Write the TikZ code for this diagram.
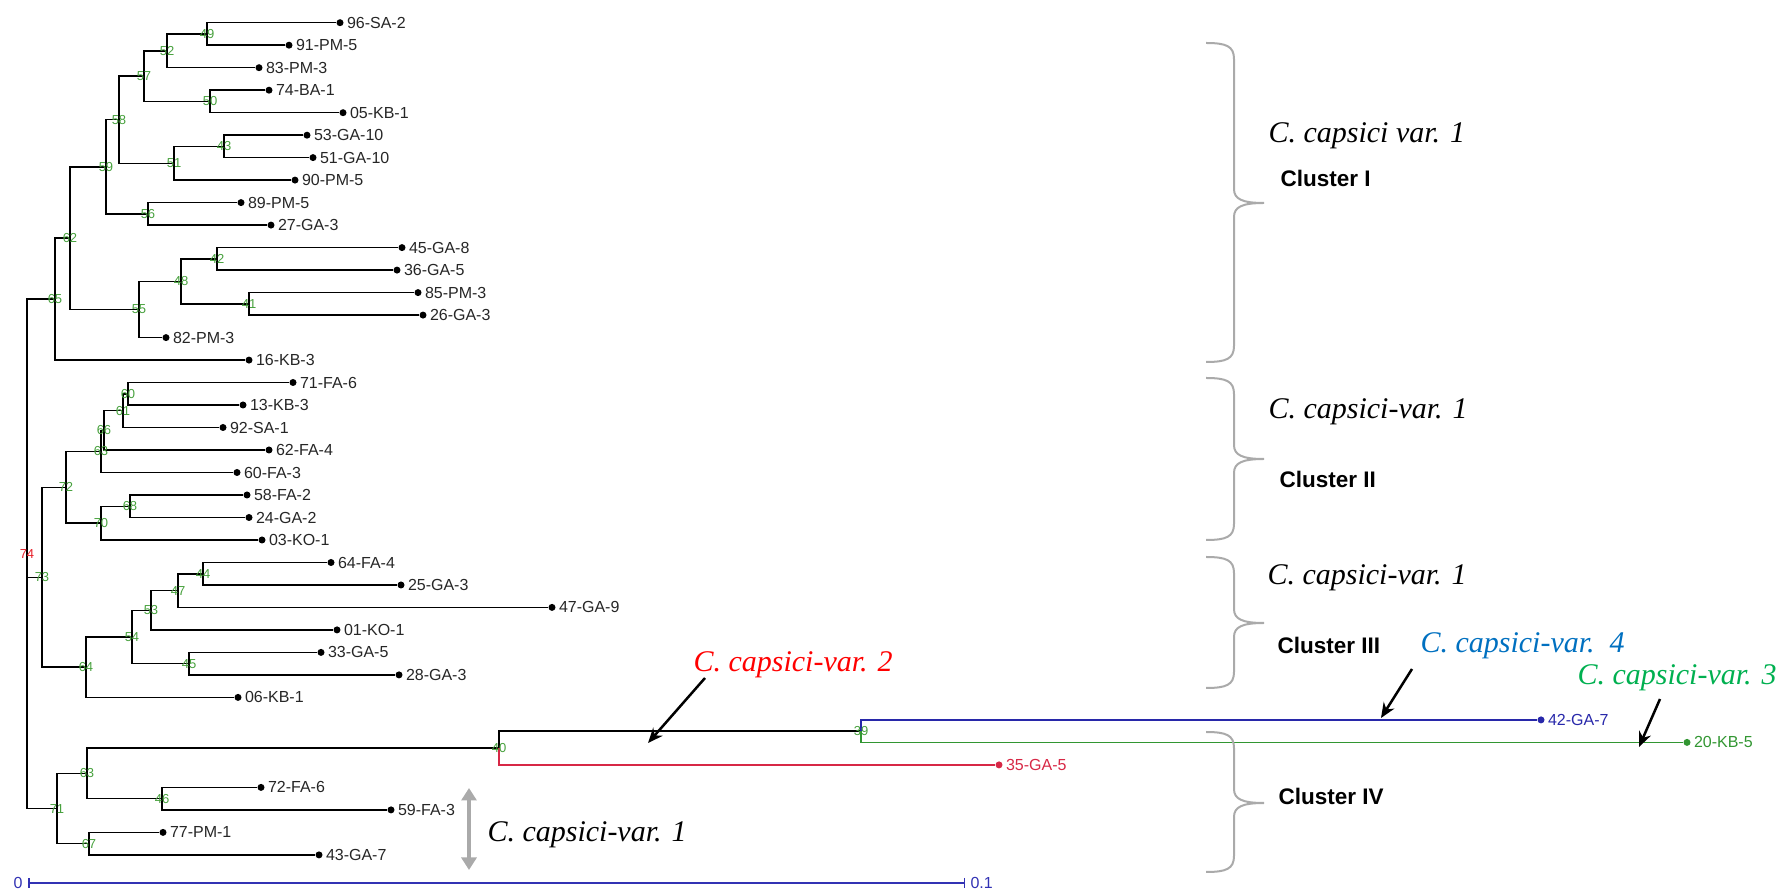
\documentclass[tikz,border=0pt]{standalone}
\usepackage{fontspec}
\setmainfont{Liberation Sans}
\newfontfamily\capsfont{Liberation Serif}
\usetikzlibrary{arrows.meta}
\definecolor{bootgreen}{RGB}{70,160,60}
\definecolor{bootred}{RGB}{230,30,40}
\definecolor{brgreen}{RGB}{50,150,50}
\definecolor{brblue}{RGB}{40,40,170}
\definecolor{brred}{RGB}{215,40,70}
\definecolor{varred}{RGB}{255,0,0}
\definecolor{varblue}{RGB}{0,112,192}
\definecolor{vargreen}{RGB}{0,176,80}
\definecolor{bracegray}{RGB}{170,170,170}
\definecolor{scaleblue}{RGB}{50,50,180}

\begin{document}
\begin{tikzpicture}[x=0.4pt,y=-0.4pt]
\tikzset{br/.style={line width=0.6pt},
  leaf/.style={circle, fill=black, inner sep=0pt, minimum size=2.8pt},
  lab/.style={anchor=west, inner sep=1pt, text=black!85, font=\fontsize{6.4}{7}\selectfont},
  boot/.style={inner sep=0pt, text=bootgreen, font=\fontsize{5.2}{6}\selectfont},
  vartext/.style={anchor=base west, inner sep=0pt, font=\capsfont\itshape\fontsize{12}{14}\selectfont},
  clus/.style={anchor=base west, inner sep=0pt, font=\bfseries\fontsize{9}{11}\selectfont},
  clbrace/.style={draw=bracegray, line width=0.8pt},
  pointer/.style={line width=1pt, -{Stealth[length=6pt, width=5pt]}},
  grayarrow/.style={draw=bracegray, line width=1.6pt, {Triangle[length=5pt, width=6pt]}-{Triangle[length=5pt, width=6pt]}},
  scalebar/.style={draw=scaleblue, line width=0.6pt, {Bar[width=4pt]}-{Bar[width=4pt]}},
  scalelab/.style={inner sep=2pt, text=scaleblue, font=\fontsize{6.4}{7}\selectfont}}
\useasboundingbox (0,0) rectangle (1786,890);
\node[leaf] (L1) at (340,22.7) {};
\node[leaf] (L2) at (289,45.2) {};
\node[leaf] (L3) at (259,67.7) {};
\node[leaf] (L4) at (269,90.2) {};
\node[leaf] (L5) at (343,112.7) {};
\node[leaf] (L6) at (307,135.2) {};
\node[leaf] (L7) at (313,157.6) {};
\node[leaf] (L8) at (295,180.1) {};
\node[leaf] (L9) at (241,202.6) {};
\node[leaf] (L10) at (271,225.1) {};
\node[leaf] (L11) at (402,247.6) {};
\node[leaf] (L12) at (397,270.1) {};
\node[leaf] (L13) at (418,292.6) {};
\node[leaf] (L14) at (423,315.1) {};
\node[leaf] (L15) at (166,337.6) {};
\node[leaf] (L16) at (249,360.1) {};
\node[leaf] (L17) at (293,382.5) {};
\node[leaf] (L18) at (243,405.0) {};
\node[leaf] (L19) at (223,427.5) {};
\node[leaf] (L20) at (269,450.0) {};
\node[leaf] (L21) at (237,472.5) {};
\node[leaf] (L22) at (247,495.0) {};
\node[leaf] (L23) at (249,517.5) {};
\node[leaf] (L24) at (262,540.0) {};
\node[leaf] (L25) at (331,562.5) {};
\node[leaf] (L26) at (401,585.0) {};
\node[leaf] (L27) at (552,607.4) {};
\node[leaf] (L28) at (337,629.9) {};
\node[leaf] (L29) at (321,652.4) {};
\node[leaf] (L30) at (399,674.9) {};
\node[leaf] (L31) at (238,697.4) {};
\node[leaf, fill=brblue] (L32) at (1541,719.9) {};
\node[leaf, fill=brgreen] (L33) at (1687,742.4) {};
\node[leaf, fill=brred] (L34) at (999,764.9) {};
\node[leaf] (L35) at (261,787.4) {};
\node[leaf] (L36) at (391,809.9) {};
\node[leaf] (L37) at (163,832.4) {};
\node[leaf] (L38) at (319,854.9) {};
\node[lab] (T1) at (L1.east) {96-SA-2};
\node[lab] (T2) at (L2.east) {91-PM-5};
\node[lab] (T3) at (L3.east) {83-PM-3};
\node[lab] (T4) at (L4.east) {74-BA-1};
\node[lab] (T5) at (L5.east) {05-KB-1};
\node[lab] (T6) at (L6.east) {53-GA-10};
\node[lab] (T7) at (L7.east) {51-GA-10};
\node[lab] (T8) at (L8.east) {90-PM-5};
\node[lab] (T9) at (L9.east) {89-PM-5};
\node[lab] (T10) at (L10.east) {27-GA-3};
\node[lab] (T11) at (L11.east) {45-GA-8};
\node[lab] (T12) at (L12.east) {36-GA-5};
\node[lab] (T13) at (L13.east) {85-PM-3};
\node[lab] (T14) at (L14.east) {26-GA-3};
\node[lab] (T15) at (L15.east) {82-PM-3};
\node[lab] (T16) at (L16.east) {16-KB-3};
\node[lab] (T17) at (L17.east) {71-FA-6};
\node[lab] (T18) at (L18.east) {13-KB-3};
\node[lab] (T19) at (L19.east) {92-SA-1};
\node[lab] (T20) at (L20.east) {62-FA-4};
\node[lab] (T21) at (L21.east) {60-FA-3};
\node[lab] (T22) at (L22.east) {58-FA-2};
\node[lab] (T23) at (L23.east) {24-GA-2};
\node[lab] (T24) at (L24.east) {03-KO-1};
\node[lab] (T25) at (L25.east) {64-FA-4};
\node[lab] (T26) at (L26.east) {25-GA-3};
\node[lab] (T27) at (L27.east) {47-GA-9};
\node[lab] (T28) at (L28.east) {01-KO-1};
\node[lab] (T29) at (L29.east) {33-GA-5};
\node[lab] (T30) at (L30.east) {28-GA-3};
\node[lab] (T31) at (L31.east) {06-KB-1};
\node[lab, text=brblue] (T32) at (L32.east) {42-GA-7};
\node[lab, text=brgreen] (T33) at (L33.east) {20-KB-5};
\node[lab, text=brred] (T34) at (L34.east) {35-GA-5};
\node[lab] (T35) at (L35.east) {72-FA-6};
\node[lab] (T36) at (L36.east) {59-FA-3};
\node[lab] (T37) at (L37.east) {77-PM-1};
\node[lab] (T38) at (L38.east) {43-GA-7};
\coordinate (N49) at (207,34.0);
\coordinate (N52) at (167,50.8);
\coordinate (N50) at (210,101.5);
\coordinate (N57) at (144,76.2);
\coordinate (N43) at (224,146.4);
\coordinate (N51) at (174,163.3);
\coordinate (N58) at (119,119.7);
\coordinate (N56) at (148,213.9);
\coordinate (N59) at (106,166.8);
\coordinate (N42) at (217,258.9);
\coordinate (N41) at (249,303.9);
\coordinate (N48) at (181,281.4);
\coordinate (N55) at (139,309.5);
\coordinate (N62) at (70,238.2);
\coordinate (N65) at (55,299.1);
\coordinate (N60) at (128,393.8);
\coordinate (N61) at (123,410.6);
\coordinate (N66) at (104,430.3);
\coordinate (N63a) at (101,451.4);
\coordinate (N68) at (130,506.3);
\coordinate (N70) at (101,523.1);
\coordinate (N72) at (66,487.3);
\coordinate (N44) at (203,573.8);
\coordinate (N47) at (178,590.6);
\coordinate (N53) at (151,610.3);
\coordinate (N45) at (189,663.7);
\coordinate (N54) at (132,637.0);
\coordinate (N64) at (86,667.2);
\coordinate (N73) at (42,577.3);
\coordinate (N39) at (861,731.2);
\coordinate (N40) at (499,748.1);
\coordinate (N46) at (162,798.7);
\coordinate (N63b) at (87,773.4);
\coordinate (N67) at (89,843.7);
\coordinate (N71) at (57,808.6);
\coordinate (N74) at (27,553.9);
\draw[br] (N74) |- (N65);
\draw[br] (N74) |- (N73);
\draw[br] (N74) |- (N71);
\draw[br] (N65) |- (N62);
\draw[br] (N65) |- (L16);
\draw[br] (N62) |- (N59);
\draw[br] (N62) |- (N55);
\draw[br] (N59) |- (N58);
\draw[br] (N59) |- (N56);
\draw[br] (N58) |- (N57);
\draw[br] (N58) |- (N51);
\draw[br] (N57) |- (N52);
\draw[br] (N57) |- (N50);
\draw[br] (N52) |- (N49);
\draw[br] (N52) |- (L3);
\draw[br] (N49) |- (L1);
\draw[br] (N49) |- (L2);
\draw[br] (N50) |- (L4);
\draw[br] (N50) |- (L5);
\draw[br] (N51) |- (N43);
\draw[br] (N51) |- (L8);
\draw[br] (N43) |- (L6);
\draw[br] (N43) |- (L7);
\draw[br] (N56) |- (L9);
\draw[br] (N56) |- (L10);
\draw[br] (N55) |- (N48);
\draw[br] (N55) |- (L15);
\draw[br] (N48) |- (N42);
\draw[br] (N48) |- (N41);
\draw[br] (N42) |- (L11);
\draw[br] (N42) |- (L12);
\draw[br] (N41) |- (L13);
\draw[br] (N41) |- (L14);
\draw[br] (N73) |- (N72);
\draw[br] (N73) |- (N64);
\draw[br] (N72) |- (N63a);
\draw[br] (N72) |- (N70);
\draw[br] (N63a) |- (N66);
\draw[br] (N63a) |- (L21);
\draw[br] (N66) |- (N61);
\draw[br] (N66) |- (L20);
\draw[br] (N61) |- (N60);
\draw[br] (N61) |- (L19);
\draw[br] (N60) |- (L17);
\draw[br] (N60) |- (L18);
\draw[br] (N70) |- (N68);
\draw[br] (N70) |- (L24);
\draw[br] (N68) |- (L22);
\draw[br] (N68) |- (L23);
\draw[br] (N64) |- (N54);
\draw[br] (N64) |- (L31);
\draw[br] (N54) |- (N53);
\draw[br] (N54) |- (N45);
\draw[br] (N53) |- (N47);
\draw[br] (N53) |- (L28);
\draw[br] (N47) |- (N44);
\draw[br] (N47) |- (L27);
\draw[br] (N44) |- (L25);
\draw[br] (N44) |- (L26);
\draw[br] (N45) |- (L29);
\draw[br] (N45) |- (L30);
\draw[br] (N71) |- (N63b);
\draw[br] (N71) |- (N67);
\draw[br] (N63b) |- (N40);
\draw[br] (N63b) |- (N46);
\draw[br] (N40) |- (N39);
\draw[br, brred] (N40) |- (L34);
\draw[br, brblue] (N39) |- (L32);
\draw[br, brgreen] (N39) |- (L33);
\draw[br] (N46) |- (L35);
\draw[br] (N46) |- (L36);
\draw[br] (N67) |- (L37);
\draw[br] (N67) |- (L38);
\node[boot] (B49) at (N49) {49};
\node[boot] (B52) at (N52) {52};
\node[boot] (B50) at (N50) {50};
\node[boot] (B57) at (N57) {57};
\node[boot] (B43) at (N43) {43};
\node[boot] (B51) at (N51) {51};
\node[boot] (B58) at (N58) {58};
\node[boot] (B56) at (N56) {56};
\node[boot] (B59) at (N59) {59};
\node[boot] (B42) at (N42) {42};
\node[boot] (B41) at (N41) {41};
\node[boot] (B48) at (N48) {48};
\node[boot] (B55) at (N55) {55};
\node[boot] (B62) at (N62) {62};
\node[boot] (B65) at (N65) {65};
\node[boot] (B60) at (N60) {60};
\node[boot] (B61) at (N61) {61};
\node[boot] (B66) at (N66) {66};
\node[boot] (B63a) at (N63a) {63};
\node[boot] (B68) at (N68) {68};
\node[boot] (B70) at (N70) {70};
\node[boot] (B72) at (N72) {72};
\node[boot] (B44) at (N44) {44};
\node[boot] (B47) at (N47) {47};
\node[boot] (B53) at (N53) {53};
\node[boot] (B45) at (N45) {45};
\node[boot] (B54) at (N54) {54};
\node[boot] (B64) at (N64) {64};
\node[boot] (B73) at (N73) {73};
\node[boot] (B39) at (N39) {39};
\node[boot] (B40) at (N40) {40};
\node[boot] (B46) at (N46) {46};
\node[boot] (B63b) at (N63b) {63};
\node[boot] (B67) at (N67) {67};
\node[boot] (B71) at (N71) {71};
\node[boot, text=bootred] (B74) at (N74) {74};
\draw[clbrace] (1206,43) .. controls (1226,43) and (1234,46) .. (1234,59) -- (1234,189)
  .. controls (1234,199) and (1242,203) .. (1264,203) .. controls (1242,203) and (1234,207) .. (1234,217)
  -- (1234,346) .. controls (1234,359) and (1226,362) .. (1206,362);
\draw[clbrace] (1206,378) .. controls (1226,378) and (1234,381) .. (1234,394) -- (1234,445)
  .. controls (1234,455) and (1242,459) .. (1264,459) .. controls (1242,459) and (1234,463) .. (1234,473)
  -- (1234,524) .. controls (1234,537) and (1226,540) .. (1206,540);
\draw[clbrace] (1206,557) .. controls (1226,557) and (1234,560) .. (1234,573) -- (1234,609)
  .. controls (1234,619) and (1242,623) .. (1264,623) .. controls (1242,623) and (1234,627) .. (1234,637)
  -- (1234,672) .. controls (1234,685) and (1226,688) .. (1206,688);
\draw[clbrace] (1206,732) .. controls (1226,732) and (1234,735) .. (1234,748) -- (1234,789)
  .. controls (1234,799) and (1242,803) .. (1264,803) .. controls (1242,803) and (1234,807) .. (1234,817)
  -- (1234,856) .. controls (1234,869) and (1226,872) .. (1206,872);
\node[vartext] (V1a) at (1268,143) {C. capsici var. 1};
\node[clus] (C1) at (1280,187) {Cluster I};
\node[vartext] (V1b) at (1268,419) {C. capsici-var. 1};
\node[clus] (C2) at (1279,488) {Cluster II};
\node[vartext] (V1c) at (1267,585) {C. capsici-var. 1};
\node[clus] (C3) at (1277,654) {Cluster III};
\node[clus] (C4) at (1278,805) {Cluster IV};
\node[vartext] (V1d) at (487,842) {C. capsici-var. 1};
\node[vartext, text=varred] (V2) at (693,672) {C. capsici-var. 2};
\node[vartext, text=varblue] (V4) at (1420,653) {C. capsici-var.\ \ 4};
\node[vartext, text=vargreen] (V3) at (1577,685) {C. capsici-var. 3};
\coordinate (A2s) at (705,678);
\coordinate (A2e) at (648,743);
\coordinate (A4s) at (1412,669);
\coordinate (A4e) at (1381,718);
\coordinate (A3s) at (1660,699);
\coordinate (A3e) at (1639,747);
\draw[pointer] (A2s) -- (A2e);
\draw[pointer] (A4s) -- (A4e);
\draw[pointer] (A3s) -- (A3e);
\coordinate (G1) at (469,788);
\coordinate (G2) at (469,870);
\draw[grayarrow] (G1) -- (G2);
\coordinate (S0) at (28,883);
\coordinate (S1) at (965,883);
\draw[scalebar] (S0) -- (S1);
\node[scalelab, anchor=east] (S0t) at (S0) {0};
\node[scalelab, anchor=west] (S1t) at (S1) {0.1};
\end{tikzpicture}
\end{document}
